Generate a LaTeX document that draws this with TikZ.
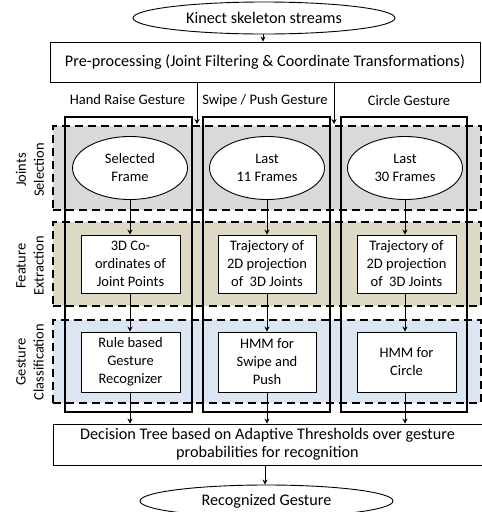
\documentclass[tikz,border=0pt]{standalone}
\usepackage{fontspec}
\setmainfont{Carlito}
\usetikzlibrary{arrows.meta,shapes.geometric}
\definecolor{rowgray}{RGB}{217,217,217}
\definecolor{rowbeige}{RGB}{221,217,196}
\definecolor{rowblue}{RGB}{220,230,242}
\newcommand{\bigtext}{\fontsize{16.2}{18}\selectfont}
\newcommand{\smalltext}{\fontsize{14.5}{18}\selectfont}
\begin{document}
\begin{tikzpicture}[x=1pt,y=-1pt,
  font=\smalltext,
  ar/.style={-{Stealth[length=5pt,width=5pt]}, line width=0.9pt},
  thinbox/.style={draw, line width=0.9pt, fill=white, align=center, inner sep=0pt},
  ell/.style={ellipse, draw, line width=0.9pt, fill=white, align=center, inner sep=0pt},
  colbox/.style={draw, line width=2.6pt, inner sep=0pt},
  rowbox/.style={draw, dash pattern=on 8pt off 5pt, line width=2.2pt, inner sep=0pt},
  rowlabel/.style={rotate=90, align=center, inner sep=0pt},
  collabel/.style={inner sep=0pt}]
\useasboundingbox (0,0) rectangle (482,512);

% rows
\node[rowbox, fill=rowgray,  minimum width=428pt, minimum height=84pt] (r1) at (267,168) {};
\node[rowbox, fill=rowbeige, minimum width=428pt, minimum height=84pt] (r2) at (267,264) {};
\node[rowbox, fill=rowblue,  minimum width=428pt, minimum height=83pt] (r3) at (267,361.5) {};

% columns
\node[colbox, minimum width=127pt, minimum height=295pt] (c1) at (128.5,264.5) {};
\node[colbox, minimum width=127pt, minimum height=295pt] (c2) at (266.5,264.5) {};
\node[colbox, minimum width=126pt, minimum height=295pt] (c3) at (404,264.5) {};

% row labels
\node[rowlabel] (l1) at (30,170) {Joints\\Selection};
\node[rowlabel] (l2) at (30,266) {Feature\\Extraction};
\node[rowlabel] (l3) at (30,362) {Gesture\\Classification};

% column labels
\node[collabel] (h1) at (127.5,100) {Hand Raise Gesture};
\node[collabel] (h2) at (265,101) {Swipe / Push Gesture};
\node[collabel] (h3) at (409,101) {Circle Gesture};

% top
\node[ell, font=\bigtext, minimum width=262pt, minimum height=32pt] (kin) at (264,18) {Kinect skeleton streams};
\node[thinbox, font=\bigtext, minimum width=430pt, minimum height=40pt] (pre) at (265,62) {Pre-processing (Joint Filtering \& Coordinate Transformations)};

% joint selection
\node[ell, minimum width=115pt, minimum height=63pt] (e1) at (130,168) {Selected\\Frame};
\node[ell, minimum width=115pt, minimum height=63pt] (e2) at (267,168) {Last\\11 Frames};
\node[ell, minimum width=115pt, minimum height=63pt] (e3) at (405,168) {Last\\30 Frames};

% feature extraction
\node[thinbox, minimum width=99pt, minimum height=58pt] (f1) at (130.5,264) {3D Co-\\ordinates of\\Joint Points};
\node[thinbox, minimum width=98pt, minimum height=58pt] (f2) at (267,264) {Trajectory of\\2D projection\\of~ 3D Joints};
\node[thinbox, minimum width=99pt, minimum height=58pt] (f3) at (406.5,264) {Trajectory of\\2D projection\\of~ 3D Joints};

% classification
\node[thinbox, minimum width=99pt, minimum height=60pt] (g1) at (130.5,362) {Rule based\\Gesture\\Recognizer};
\node[thinbox, minimum width=98pt, minimum height=60pt] (g2) at (267,362) {HMM for\\Swipe and\\Push};
\node[thinbox, minimum width=99pt, minimum height=60pt] (g3) at (406.5,362) {HMM for\\Circle};

% decision and output
\node[thinbox, font=\bigtext, minimum width=429pt, minimum height=41pt] (dec) at (267.5,444.5) {Decision Tree based on Adaptive Thresholds over gesture\\probabilities for recognition};
\node[ell, font=\bigtext, minimum width=253pt, minimum height=32pt] (out) at (266.5,501) {Recognized Gesture};

% connectors
\coordinate (k1) at (263,0);
\draw[ar] (kin.south -| k1) -- (pre.north -| k1);
\coordinate (p1) at (197,124);
\coordinate (p2) at (334,124);
\draw[ar] (pre.south -| p1) -- (p1);
\draw[ar] (pre.south -| p2) -- (p2);
\draw[ar] (e1.south) -- (e1.south |- f1.north);
\draw[ar] (e2.south) -- (e2.south |- f2.north);
\draw[ar] (e3.south) -- (e3.south |- f3.north);
\draw[ar] (f1.south -| e1.south) -- (e1.south |- g1.north);
\draw[ar] (f2.south -| e2.south) -- (e2.south |- g2.north);
\draw[ar] (f3.south -| e3.south) -- (e3.south |- g3.north);
\draw[ar] (g1.south -| e1.south) -- (e1.south |- dec.north);
\draw[ar] (g2.south -| e2.south) -- (e2.south |- dec.north);
\draw[ar] (g3.south -| e3.south) -- (e3.south |- dec.north);
\coordinate (o1) at (265,0);
\draw[ar] (dec.south -| o1) -- (out.north -| o1);
\end{tikzpicture}
\end{document}
